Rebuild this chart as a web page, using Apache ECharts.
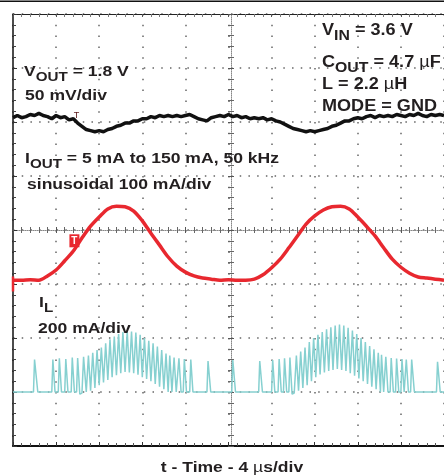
<!DOCTYPE html>
<html><head><meta charset="utf-8">
<script src="https://cdn.jsdelivr.net/npm/echarts@6/dist/echarts.min.js"></script>
<style>html,body{margin:0;padding:0;background:#fff}#c{width:444px;height:476px}</style>
</head><body><div id="c"></div>
<script>
// ---- data ----
// V_OUT, AC deviation in mV (50 mV/div)
const voutTimes = [0,0.4,0.8,1.2,1.6,2,2.4,2.8,3.2,3.6,4,4.4,4.8,5.2,5.6,6,6.4,6.8,7.2,7.6,8,8.4,8.8,9.2,9.6,10,10.4,10.8,11.2,11.6,12,12.4,12.8,13.2,13.6,14,14.4,14.8,15.2,15.6,16,16.4,16.8,17.2,17.6,18,18.4,18.8,19.2,19.6,20,20.4,20.8,21.2,21.6,22,22.4,22.8,23.2,23.6,24,24.4,24.8,25.2,25.6,26,26.4,26.8,27.2,27.6,28,28.4,28.8,29.2,29.6,30,30.4,30.8,31.2,31.6,32,32.4,32.8,33.2,33.6,34,34.4,34.8,35.2,35.6,36,36.4,36.8,37.2,37.6,38,38.4,38.8,39.2,39.6,40];
const voutValues = [-1,1,-1,0,2,1,3,1,0,-2,
  1,-1,0,-3,-2,-6,-9,-12,-13,-14,
  -13,-14,-12,-11,-9,-8,-6,-6,-4,-4,
  -2,-2,0,-1,1,0,1,0,1,0,
  1,2,0,-2,-3,-4,-1,0,1,0,
  2,0,1,-1,0,-2,-1,-2,-1,-3,
  -2,-4,-5,-7,-9,-11,-12,-13,-14,-13,
  -14,-13,-12,-11,-9,-8,-6,-4,-4,-2,
  -1,-2,0,1,-1,1,0,1,0,2,
  1,0,2,1,3,1,0,2,1,2,
  1];
// I_OUT in mA (100 mA/div)
const ioutTimes = [0,0.8,1.6,2.4,3.2,4,4.8,5.6,6.4,7.2,8,8.8,9.6,10.4,11.2,12,12.8,13.6,14.4,15.2,16,16.8,17.6,18.4,19.2,20,20.8,21.6,22.4,23.2,24,24.8,25.6,26.4,27.2,28,28.8,29.6,30.4,31.2,32,32.8,33.6,34.4,35.2,36,36.8,37.6,38.4,39.2,40];
const ioutValues = [7,7,8,7,15,26,43,61,85,107,124,139,144,143,135,117,94,72,50,33,22,15,11,9,7,8,7,7,9,17,30,46,67,89,111,126,137,143,144,139,124,107,89,67,46,31,20,13,11,9,7];
// I_L in mA (200 mA/div), [time us, current mA]
const ilPoints = [
  [0,0],[1.9,0],[2.0,120],[2.3,0],
  [3.6,0],[3.7,120],[3.9,0],[4.2,0],[4.3,125],[4.5,0],[4.8,0],[4.9,122],[5.1,0],
  [5.4,0],[5.5,128],[5.7,0],[5.9,0],[6.0,126],[6.2,-8],[6.4,-4],[6.55,130],
  [6.8,0],[7.0,135],[7.2,5],[7.4,145],[7.6,15],[7.8,155],[8.0,25],[8.2,165],
  [8.4,35],[8.6,180],[8.8,45],[9.0,195],[9.2,55],[9.4,205],[9.6,62],[9.8,215],
  [10.0,70],[10.2,222],[10.4,74],[10.6,226],[10.8,72],[11.0,224],[11.2,70],[11.4,220],
  [11.6,64],[11.8,212],[12.0,55],[12.2,200],[12.4,48],[12.6,190],[12.8,40],[13.0,180],
  [13.2,30],[13.4,168],[13.6,20],[13.8,155],[14.0,10],[14.2,142],
  [14.4,0],[14.55,135],[14.75,0],[14.85,0],[14.95,128],[15.15,0],[15.3,0],[15.4,125],[15.6,0],
  [15.8,0],[15.9,122],[16.1,0],[16.4,0],[16.5,120],[16.7,0],
  [18.0,0],[18.1,115],[18.35,0],[20.3,0],[20.4,118],[20.65,0],[22.8,0],[22.9,115],[23.15,0],
  [24.0,0],[24.1,118],[24.3,0],[24.6,0],[24.7,122],[24.9,0],[25.1,0],[25.2,125],[25.4,0],
  [25.6,0],[25.7,128],[25.9,-8],[26.1,-4],[26.3,135],[26.5,5],[26.7,150],
  [26.9,15],[27.1,165],[27.3,25],[27.5,185],[27.7,40],[27.9,200],[28.1,55],[28.3,212],
  [28.5,65],[28.7,222],[28.9,72],[29.1,232],[29.3,78],[29.5,240],[29.7,82],[29.9,246],
  [30.1,85],[30.3,250],[30.5,82],[30.7,246],[30.9,78],[31.1,238],[31.3,70],[31.5,228],
  [31.7,60],[31.9,215],[32.1,50],[32.3,200],[32.5,40],[32.7,185],[32.9,30],[33.1,170],
  [33.3,20],[33.5,158],[33.7,10],[33.9,145],
  [34.1,0],[34.2,138],[34.4,0],[34.5,0],[34.6,130],[34.8,0],[35.0,0],[35.1,126],[35.3,0],
  [35.5,0],[35.6,124],[35.8,0],[36.0,0],[36.1,122],[36.3,0],[36.4,0],[36.5,120],[36.7,0],
  [36.9,0],[37.0,120],[37.25,0],[39.3,0],[39.4,112],[39.65,0],[40,0]
];
// trigger marker on the I_OUT trace, and small T on V_OUT
const triggerTime = 5.7;
const triggerLevel = 80;
const voutMarkTime = 5.9;
const voutMarkLevel = 1;
// scope scales
const timeRange = [0, 40], timePerDiv = 4;
const divRange = [-4, 4];
const voutRange = [-305, 95];   // mV, 50 mV/div
const ioutRange = [-300, 500];  // mA, 100 mA/div
const ilRange = [-200, 1400];   // mA, 200 mA/div

// ---- chart ----
const FONT = 'Liberation Sans';
const INK = '#231f20';
const DOT = '#666';
const chart = echarts.init(document.getElementById('c'));

function xAx(extra) {
  return Object.assign({type:'value', min:timeRange[0], max:timeRange[1], interval:timePerDiv, gridIndex:0,
    axisLabel:{show:false}, splitLine:{show:false}}, extra);
}
function yAx(extra) {
  return Object.assign({type:'value', min:divRange[0], max:divRange[1], interval:1, gridIndex:0,
    axisLabel:{show:false}, splitLine:{show:false}}, extra);
}
const richL = {
  m:{fontSize:15, fontWeight:'bold', fontFamily:FONT, fill:INK, verticalAlign:'top'},
  s:{fontSize:13, fontWeight:'bold', fontFamily:FONT, fill:INK, verticalAlign:'top', padding:[7,0,0,0]},
  u:{fontSize:15, fontWeight:'normal', fontFamily:FONT, fill:INK, verticalAlign:'top'}
};
const richR = {
  m:{fontSize:16, fontWeight:'bold', fontFamily:FONT, fill:INK, verticalAlign:'top'},
  s:{fontSize:14, fontWeight:'bold', fontFamily:FONT, fill:INK, verticalAlign:'top', padding:[7,0,0,0]},
  u:{fontSize:16, fontWeight:'normal', fontFamily:FONT, fill:INK, verticalAlign:'top'}
};
function label(x, y, text, rich, sx) {
  return {type:'text', x:x, y:y, scaleX:sx, z:100,
    style:{text:text, rich:rich, align:'left', verticalAlign:'top'}};
}

const option = {
  animation:false,
  backgroundColor:'#fff',
  grid:{left:13, top:14, width:436, height:432, containLabel:false},
  xAxis:[
    xAx({position:'bottom', axisLine:{onZero:false, lineStyle:{color:'#111', width:2}},
      axisTick:{inside:true, length:4, lineStyle:{color:'#333'}},
      minorTick:{show:true, splitNumber:5, length:3, lineStyle:{color:'#555'}},
      splitLine:{show:true, lineStyle:{color:DOT, width:1.5, type:[1.5,9.3]}}}),
    xAx({position:'top', axisLine:{onZero:false, lineStyle:{color:'#222', width:1}},
      axisTick:{inside:true, length:3, lineStyle:{color:'#555'}},
      minorTick:{show:true, splitNumber:5, length:3, lineStyle:{color:'#777'}}}),
    xAx({position:'bottom', offset:-216, axisLine:{onZero:false, lineStyle:{color:'#888', width:1, type:[1,1]}},
      axisTick:{inside:true, length:3, lineStyle:{color:'#555'}},
      minorTick:{show:true, splitNumber:5, length:3, lineStyle:{color:'#666'}}}),
    xAx({position:'bottom', offset:-216, axisLine:{show:false, onZero:false},
      axisTick:{inside:false, length:3, lineStyle:{color:'#555'}},
      minorTick:{show:true, splitNumber:5, length:3, lineStyle:{color:'#666'}}})
  ],
  yAxis:[
    yAx({position:'left', axisLine:{onZero:false, lineStyle:{color:'#111', width:1.5}},
      axisTick:{inside:true, length:4, lineStyle:{color:'#333'}},
      minorTick:{show:true, splitNumber:5, length:3, lineStyle:{color:'#444'}},
      splitLine:{show:true, lineStyle:{color:DOT, width:1.5, type:[1.5,7.22]}}}),
    yAx({position:'left', offset:-218, axisLine:{onZero:false, lineStyle:{color:'#888', width:1, type:[1,1]}},
      axisTick:{inside:true, length:3, lineStyle:{color:'#555'}},
      minorTick:{show:true, splitNumber:5, length:3, lineStyle:{color:'#666'}}}),
    yAx({position:'left', offset:-218, axisLine:{show:false, onZero:false},
      axisTick:{inside:false, length:3, lineStyle:{color:'#555'}},
      minorTick:{show:true, splitNumber:5, length:3, lineStyle:{color:'#666'}}}),
    {type:'value', show:false, min:voutRange[0], max:voutRange[1], gridIndex:0},
    {type:'value', show:false, min:ioutRange[0], max:ioutRange[1], gridIndex:0},
    {type:'value', show:false, min:ilRange[0], max:ilRange[1], gridIndex:0}
  ],
  series:[
    {name:'IL', type:'line', xAxisIndex:0, yAxisIndex:5, data:ilPoints, showSymbol:false, symbol:'none',
      lineStyle:{color:'#86d0d0', width:1.5}, z:3},
    {name:'IOUT', type:'line', xAxisIndex:0, yAxisIndex:4,
      data:ioutTimes.map((t,i)=>[t, ioutValues[i]]), showSymbol:false, symbol:'none', smooth:0.3,
      lineStyle:{color:'#e8282f', width:3.5}, z:4,
      markPoint:{silent:true, data:[
        {coord:[triggerTime, triggerLevel], symbol:'rect', symbolSize:[10,13], itemStyle:{color:'#e8282f'},
          label:{show:true, formatter:'T', color:'#fff', fontSize:10, fontWeight:'bold', fontFamily:FONT}},
        {coord:[0, 0], symbol:'rect', symbolSize:[2.5,15], itemStyle:{color:'#e8282f'}, label:{show:false}}
      ]}},
    {name:'VOUT', type:'line', xAxisIndex:0, yAxisIndex:3,
      data:voutTimes.map((t,i)=>[t, voutValues[i]]), showSymbol:false, symbol:'none',
      lineStyle:{color:'#111', width:3.5}, z:5,
      markPoint:{silent:true, data:[
        {coord:[voutMarkTime, voutMarkLevel], symbol:'rect', symbolSize:[1,1], itemStyle:{color:'rgba(0,0,0,0)'},
          label:{show:true, position:'inside', formatter:'T', color:'#5a1a1a', fontSize:9, fontFamily:FONT}}
      ]}}
  ],
  graphic:{elements:[
    {type:'line', shape:{x1:0, y1:1.3, x2:444, y2:1.3}, style:{stroke:'#111', lineWidth:1.6}},
    label(24, 64, '{m|V}{s|OUT}{m| = 1.8 V}', richL, 1.17),
    label(25, 88.5, '{m|50 mV/div}', richL, 1.17),
    label(25, 151, '{m|I}{s|OUT}{m| = 5 mA to 150 mA, 50 kHz}', richL, 1.17),
    label(27, 177.5, '{m|sinusoidal 100 mA/div}', richL, 1.17),
    label(39, 295, '{m|I}{s|L}', richL, 1.17),
    label(38, 321.5, '{m|200 mA/div}', richL, 1.17),
    label(322, 22.5, '{m|V}{s|IN}{m| = 3.6 V}', richR, 1.13),
    label(322, 54.5, '{m|C}{s|OUT}{m| = 4.7 }{u|\u00b5}{m|F}', richR, 1.13),
    label(322, 76.5, '{m|L = 2.2 }{u|\u00b5}{m|H}', richR, 1.13),
    label(322, 99, '{m|MODE = GND}', richR, 1.13),
    {type:'text', x:232, y:467.5, scaleX:1.17, z:100,
      style:{text:'{m|t - Time - 4 }{u|\u00b5}{m|s/div}', rich:richL, align:'center', verticalAlign:'middle'}}
  ]}
};
chart.setOption(option);
</script>
</body></html>
